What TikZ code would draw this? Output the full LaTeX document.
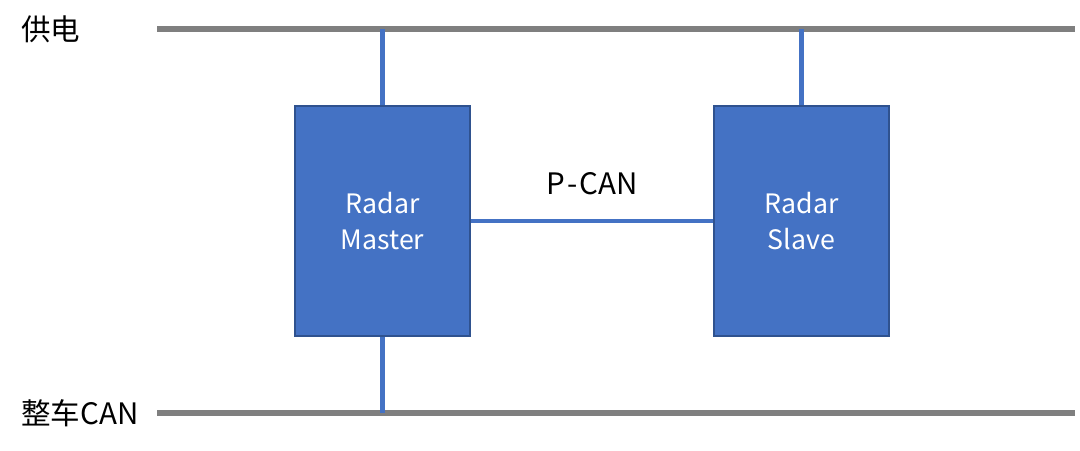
\documentclass[tikz,border=0pt]{standalone}
\usepackage{fontspec}
\setmainfont{Noto Sans CJK SC}
\usetikzlibrary{positioning,calc}
\definecolor{radarblue}{HTML}{4472C4}
\definecolor{radaredge}{HTML}{2F528F}
\definecolor{busgray}{HTML}{7F7F7F}

\begin{document}
\begin{tikzpicture}[x=0.025cm,y=-0.025cm,
  radar/.style={draw=radaredge,fill=radarblue,line width=.8pt,align=center,
    text=white,font=\fontsize{19}{26}\selectfont,minimum width=4.375cm,
    minimum height=5.75cm,inner sep=0pt},
  bus/.style={draw=busgray,line width=4.3pt},
  link/.style={draw=radarblue,line width=3.2pt},
  lbl/.style={font=\fontsize{21}{24}\selectfont,inner sep=0pt}]
\useasboundingbox (0,0) rectangle (1080,451);
% buses
\coordinate (pwrL) at (157,29);
\coordinate (pwrR) at (1075,29);
\coordinate (canL) at (157,413);
\coordinate (canR) at (1075,413);
\draw[bus] (pwrL) -- (pwrR);
\draw[bus] (canL) -- (canR);
\node[lbl,anchor=west] (pwr) at (21,29) {供电};
\node[lbl,anchor=west] (can) at (21,413) {整车CAN};
% radar boxes
\node[radar] (master) at (382.5,221) {Radar\\Master};
\node[radar] (slave) at (801.5,221) {Radar\\Slave};
\draw[link] (master.north) -- (master.north |- pwrL);
\draw[link] (slave.north) -- (slave.north |- pwrL);
\draw[link] (master.south) -- (master.south |- canL);
\draw[link] (master.east) -- node[lbl,above=17pt]{P{\kern1.5pt}-{\kern1.5pt}CAN} (slave.west);
\end{tikzpicture}
\end{document}
